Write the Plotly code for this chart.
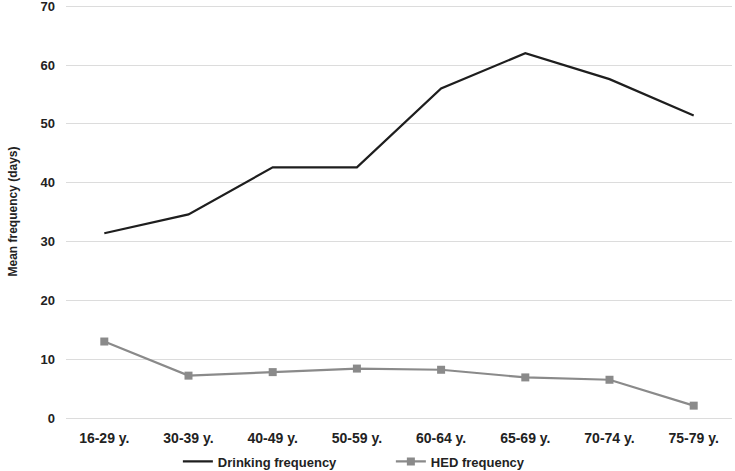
import plotly.graph_objects as go

categories = ["16-29 y.", "30-39 y.", "40-49 y.", "50-59 y.", "60-64 y.", "65-69 y.", "70-74 y.", "75-79 y."]
drinking = [31.4, 34.6, 42.6, 42.6, 56.0, 62.0, 57.6, 51.4]
hed = [13.0, 7.2, 7.8, 8.4, 8.2, 6.9, 6.5, 2.1]
y_ticks = [0, 10, 20, 30, 40, 50, 60, 70]

font_family = "Liberation Sans, Arial, sans-serif"
bold = dict(family=font_family, size=13, color="#222222", weight="bold")
bold14 = dict(family=font_family, size=14, color="#222222", weight="bold")

fig = go.Figure()
fig.add_trace(go.Scatter(
    x=categories, y=drinking, mode="lines", name="Drinking frequency",
    line=dict(color="#1e1e1e", width=2.2),
))
fig.add_trace(go.Scatter(
    x=categories, y=hed, mode="lines+markers", name="HED frequency",
    line=dict(color="#8a8a8a", width=2.2),
    marker=dict(symbol="square", size=8, color="#8a8a8a"),
))

fig.update_layout(
    width=735, height=471,
    margin=dict(l=66, r=3, t=5, b=53, autoexpand=False),
    paper_bgcolor="white", plot_bgcolor="white",
    font=dict(family=font_family, size=12, color="#222222"),
    showlegend=True,
    legend=dict(orientation="h", x=0.242, xanchor="left", xref="container",
                yref="container", y=0.052, yanchor="top",
                bgcolor="rgba(0,0,0,0)",
                entrywidth=168, entrywidthmode="pixels",
                font=bold, traceorder="normal"),
    xaxis=dict(
        type="category", showgrid=False, showline=False, ticks="",
        tickfont=bold14, ticklabelstandoff=10,
    ),
    yaxis=dict(
        range=[0, 70.2], tickvals=y_ticks, showgrid=True, gridcolor="#dcdcdc", gridwidth=1,
        zeroline=True, zerolinecolor="#dcdcdc", zerolinewidth=1,
        showline=False, ticks="", ticklabelstandoff=10, ticklabeloverflow="allow",
        tickfont=bold,
        title=dict(text="Mean frequency (days)",
                   font=dict(family=font_family, size=12, color="#222222", weight="bold"),
                   standoff=20),
    ),
)

fig.write_html("out.html", config={"displayModeBar": False},
               post_script="document.body.style.margin='0';")
